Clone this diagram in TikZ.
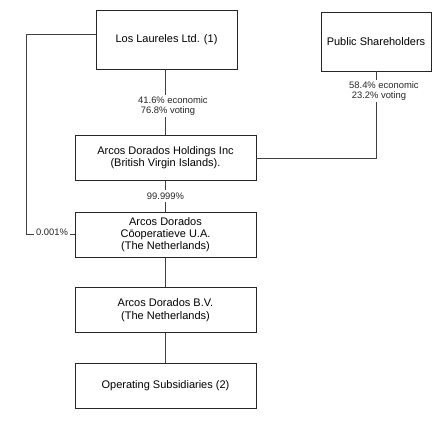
\documentclass[tikz,border=0pt]{standalone}
\usepackage{fontspec}
\setmainfont{Liberation Sans}

\tikzset{
  entity/.style={draw=black!85, line width=0.9pt, minimum width=181pt, minimum height=45pt,
    align=center, inner sep=2pt, font=\fontsize{11}{12.3}\selectfont},
  link/.style={draw=black!75, line width=0.9pt},
  share/.style={inner xsep=1.5pt, inner ysep=2pt, font=\fontsize{9.4}{9.5}\selectfont, text=black!85}
}

\begin{document}
\begin{tikzpicture}[x=1pt, y=-1pt]
  \useasboundingbox (0,0) rectangle (442,426);

  % shareholders
  \node[entity, minimum width=141pt, minimum height=59pt] (laureles) at (166.5,39.5) {Los Laureles Ltd. (1)};
  \node[entity, minimum width=110pt, minimum height=59pt] (public) at (376,41.5) {Public Shareholders};

  % group companies
  \node[entity] (holdings) at (165.5,158) {Arcos Dorados Holdings Inc\\(British Virgin Islands).};
  \node[entity] (coop) at (165.5,234.7) {Arcos Dorados\\Cōoperatieve U.A.\\(The Netherlands)};
  \node[entity] (bv) at (165.5,310) {Arcos Dorados B.V.\\(The Netherlands)};
  \node[entity] (opsub) at (165.5,385.8) {Operating Subsidiaries (2)};

  % ownership labels
  \node[share, anchor=west, align=left] (lauresh) at (136.5,106) {41.6\% economic\\\ 76.8\% voting};
  \node[share, anchor=west, align=left] (pubsh) at (347.5,91) {58.4\% economic\\\ 23.2\% voting};
  \node[share] (holdsh) at (165.5,196) {99.999\%};
  \node[share] (laurcoop) at (52,232.5) {0.001\%};

  \coordinate (lcorner) at (26.7,34);

  \draw[link] (laureles.west |- lcorner) -- (lcorner) |- (laurcoop.west |- coop.west);
  \draw[link] (laurcoop.east |- coop.west) -- (coop.west);
  \draw[link] (laureles.south -| holdings.north) -- (lauresh.north -| holdings.north);
  \draw[link] (lauresh.south -| holdings.north) -- (holdings.north);
  \draw[link] (holdings.east) -| (pubsh.south -| public.south);
  \draw[link] (pubsh.north -| public.south) -- (public.south);
  \draw[link] (holdings.south) -- (holdsh.north);
  \draw[link] (holdsh.south) -- (coop.north);
  \draw[link] (coop) -- (bv);
  \draw[link] (bv) -- (opsub);
\end{tikzpicture}
\end{document}
